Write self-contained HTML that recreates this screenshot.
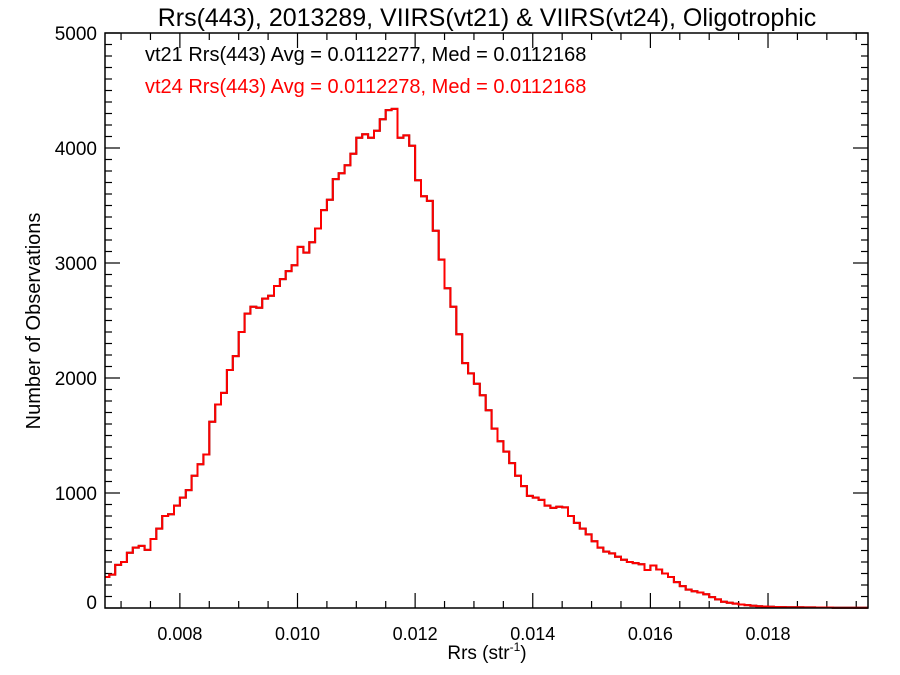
<!DOCTYPE html>
<html><head><meta charset="utf-8">
<style>
body{margin:0;background:#fff;}
svg{display:block;font-family:"Liberation Sans",Arial,sans-serif;}
</style></head>
<body>
<svg id="chart" width="900" height="675" viewBox="0 0 900 675">
<rect x="0" y="0" width="900" height="675" fill="#fff"/>
<text x="487" y="26" font-size="25" text-anchor="middle">Rrs(443), 2013289, VIIRS(vt21) &amp; VIIRS(vt24), Oligotrophic</text>
<text x="145" y="61" font-size="20" fill="#000">vt21 Rrs(443) Avg = 0.0112277, Med = 0.0112168</text>
<text x="145" y="93" font-size="20" fill="#ff0000">vt24 Rrs(443) Avg = 0.0112278, Med = 0.0112168</text>
<text transform="translate(40,321) rotate(-90)" font-size="20" text-anchor="middle">Number of Observations</text>
<text x="487" y="659" font-size="19" text-anchor="middle">Rrs (str<tspan font-size="12" dy="-8">-1</tspan><tspan dy="8">)</tspan></text>
<g id="ticks"></g>
<g id="series"></g>
<rect x="105" y="33" width="763" height="575" fill="none" stroke="#000" stroke-width="1.5"/>
</svg>
<script>
const binStart = 0.0067;
const binWidth = 0.0001;
const countsVt21 = [270,290,375,400,480,525,540,505,600,690,800,815,890,960,1025,1150,1250,1335,1620,1770,
1870,2070,2190,2400,2560,2620,2610,2690,2715,2800,2860,2930,2980,3140,3090,3180,3300,3460,3550,3730,
3780,3850,3950,4090,4120,4090,4150,4250,4330,4340,4090,4110,4020,3720,3580,3540,3280,3030,2780,2620,
2380,2130,2040,1950,1850,1720,1560,1450,1360,1260,1150,1060,975,960,940,890,870,880,875,800,
740,690,640,580,525,490,475,445,420,400,390,380,330,370,335,300,270,225,190,160,
145,135,120,95,75,55,45,38,30,25,20,16,13,11,9,8,7,6,6,5,
5,4,4,4,3,3,3,3,2,2];
const countsVt24 = [270,290,375,400,480,525,540,505,600,690,800,815,890,960,1025,1150,1250,1335,1620,1770,
1870,2070,2190,2400,2560,2620,2610,2690,2715,2800,2860,2930,2980,3140,3090,3180,3300,3460,3550,3730,
3780,3850,3950,4090,4120,4090,4150,4250,4330,4340,4090,4110,4020,3720,3580,3540,3280,3030,2780,2620,
2380,2130,2040,1950,1850,1720,1560,1450,1360,1260,1150,1060,975,960,940,890,870,880,875,800,
740,690,640,580,525,490,475,445,420,400,390,380,330,370,335,300,270,225,190,160,
145,135,120,95,75,55,45,38,30,25,20,16,13,11,9,8,7,6,6,5,
5,4,4,4,3,3,3,3,2,2];
const xTickValues = [0.008,0.010,0.012,0.014,0.016,0.018];
const xTickLabels = ["0.008","0.010","0.012","0.014","0.016","0.018"];
const yTickValues = [0,1000,2000,3000,4000,5000];
const yTickLabels = ["0","1000","2000","3000","4000","5000"];

const X0=105,X1=868,Y0=608,Y1=33;
const xMin=0.006727,xMax=0.0197,yMin=0,yMax=5000;
const xs=v=>X0+(v-xMin)/(xMax-xMin)*(X1-X0);
const ys=v=>Y0-(v-yMin)/(yMax-yMin)*(Y0-Y1);
const NS="http://www.w3.org/2000/svg";
const tg=document.getElementById('ticks');
function line(x1,y1,x2,y2,name){
  const l=document.createElementNS(NS,'line');
  l.setAttribute('x1',x1);l.setAttribute('y1',y1);l.setAttribute('x2',x2);l.setAttribute('y2',y2);
  l.setAttribute('stroke','#000');l.setAttribute('stroke-width','1.2');
  
  
  tg.appendChild(l);
}
for(let v=0.0070;v<=xMax+1e-9;v+=0.0005){
  const x=xs(v); if(x<X0||x>X1) continue;
  const maj=xTickValues.some(t=>Math.abs(t-v)<1e-7);
  const L=maj?15:7;
  line(x,Y0,x,Y0-L,'x-tick');
  line(x,Y1,x,Y1+L,'x-tick-top');
}
for(let v=0;v<=yMax;v+=100){
  const y=ys(v);
  const L=(v%1000===0)?15:7;
  line(X0,y,X0+L,y,'y-tick');
  line(X1,y,X1-L,y,'y-tick-right');
}
xTickValues.forEach((v,i)=>{
  const t=document.createElementNS(NS,'text');
  t.setAttribute('x',xs(v));t.setAttribute('y',Y0+32);
  t.setAttribute('font-size','18');t.setAttribute('text-anchor','middle');
  t.textContent=xTickLabels[i];
  
  
  tg.appendChild(t);
});
yTickValues.forEach((v,i)=>{
  const t=document.createElementNS(NS,'text');
  t.setAttribute('x',97);t.setAttribute('y',Math.min(ys(v)+7,Y0+1));
  t.setAttribute('font-size','19');t.setAttribute('text-anchor','end');
  t.textContent=yTickLabels[i];
  
  
  tg.appendChild(t);
});
const sg=document.getElementById('series');
function stepPath(counts,color,name){
  let d='';
  counts.forEach((c,i)=>{
    const xa=Math.max(X0,xs(binStart+i*binWidth)), xb=Math.min(X1,xs(binStart+(i+1)*binWidth)), y=ys(c);
    d+=(i===0?'M':'L')+xa.toFixed(1)+','+y.toFixed(1)+'L'+xb.toFixed(1)+','+y.toFixed(1);
  });
  const p=document.createElementNS(NS,'path');
  p.setAttribute('d',d);p.setAttribute('fill','none');p.setAttribute('stroke',color);p.setAttribute('stroke-width','2');
  
  
  sg.appendChild(p);
}
stepPath(countsVt21,'#000','series-vt21');
stepPath(countsVt24,'#ff0000','series-vt24');
</script>
</body></html>
